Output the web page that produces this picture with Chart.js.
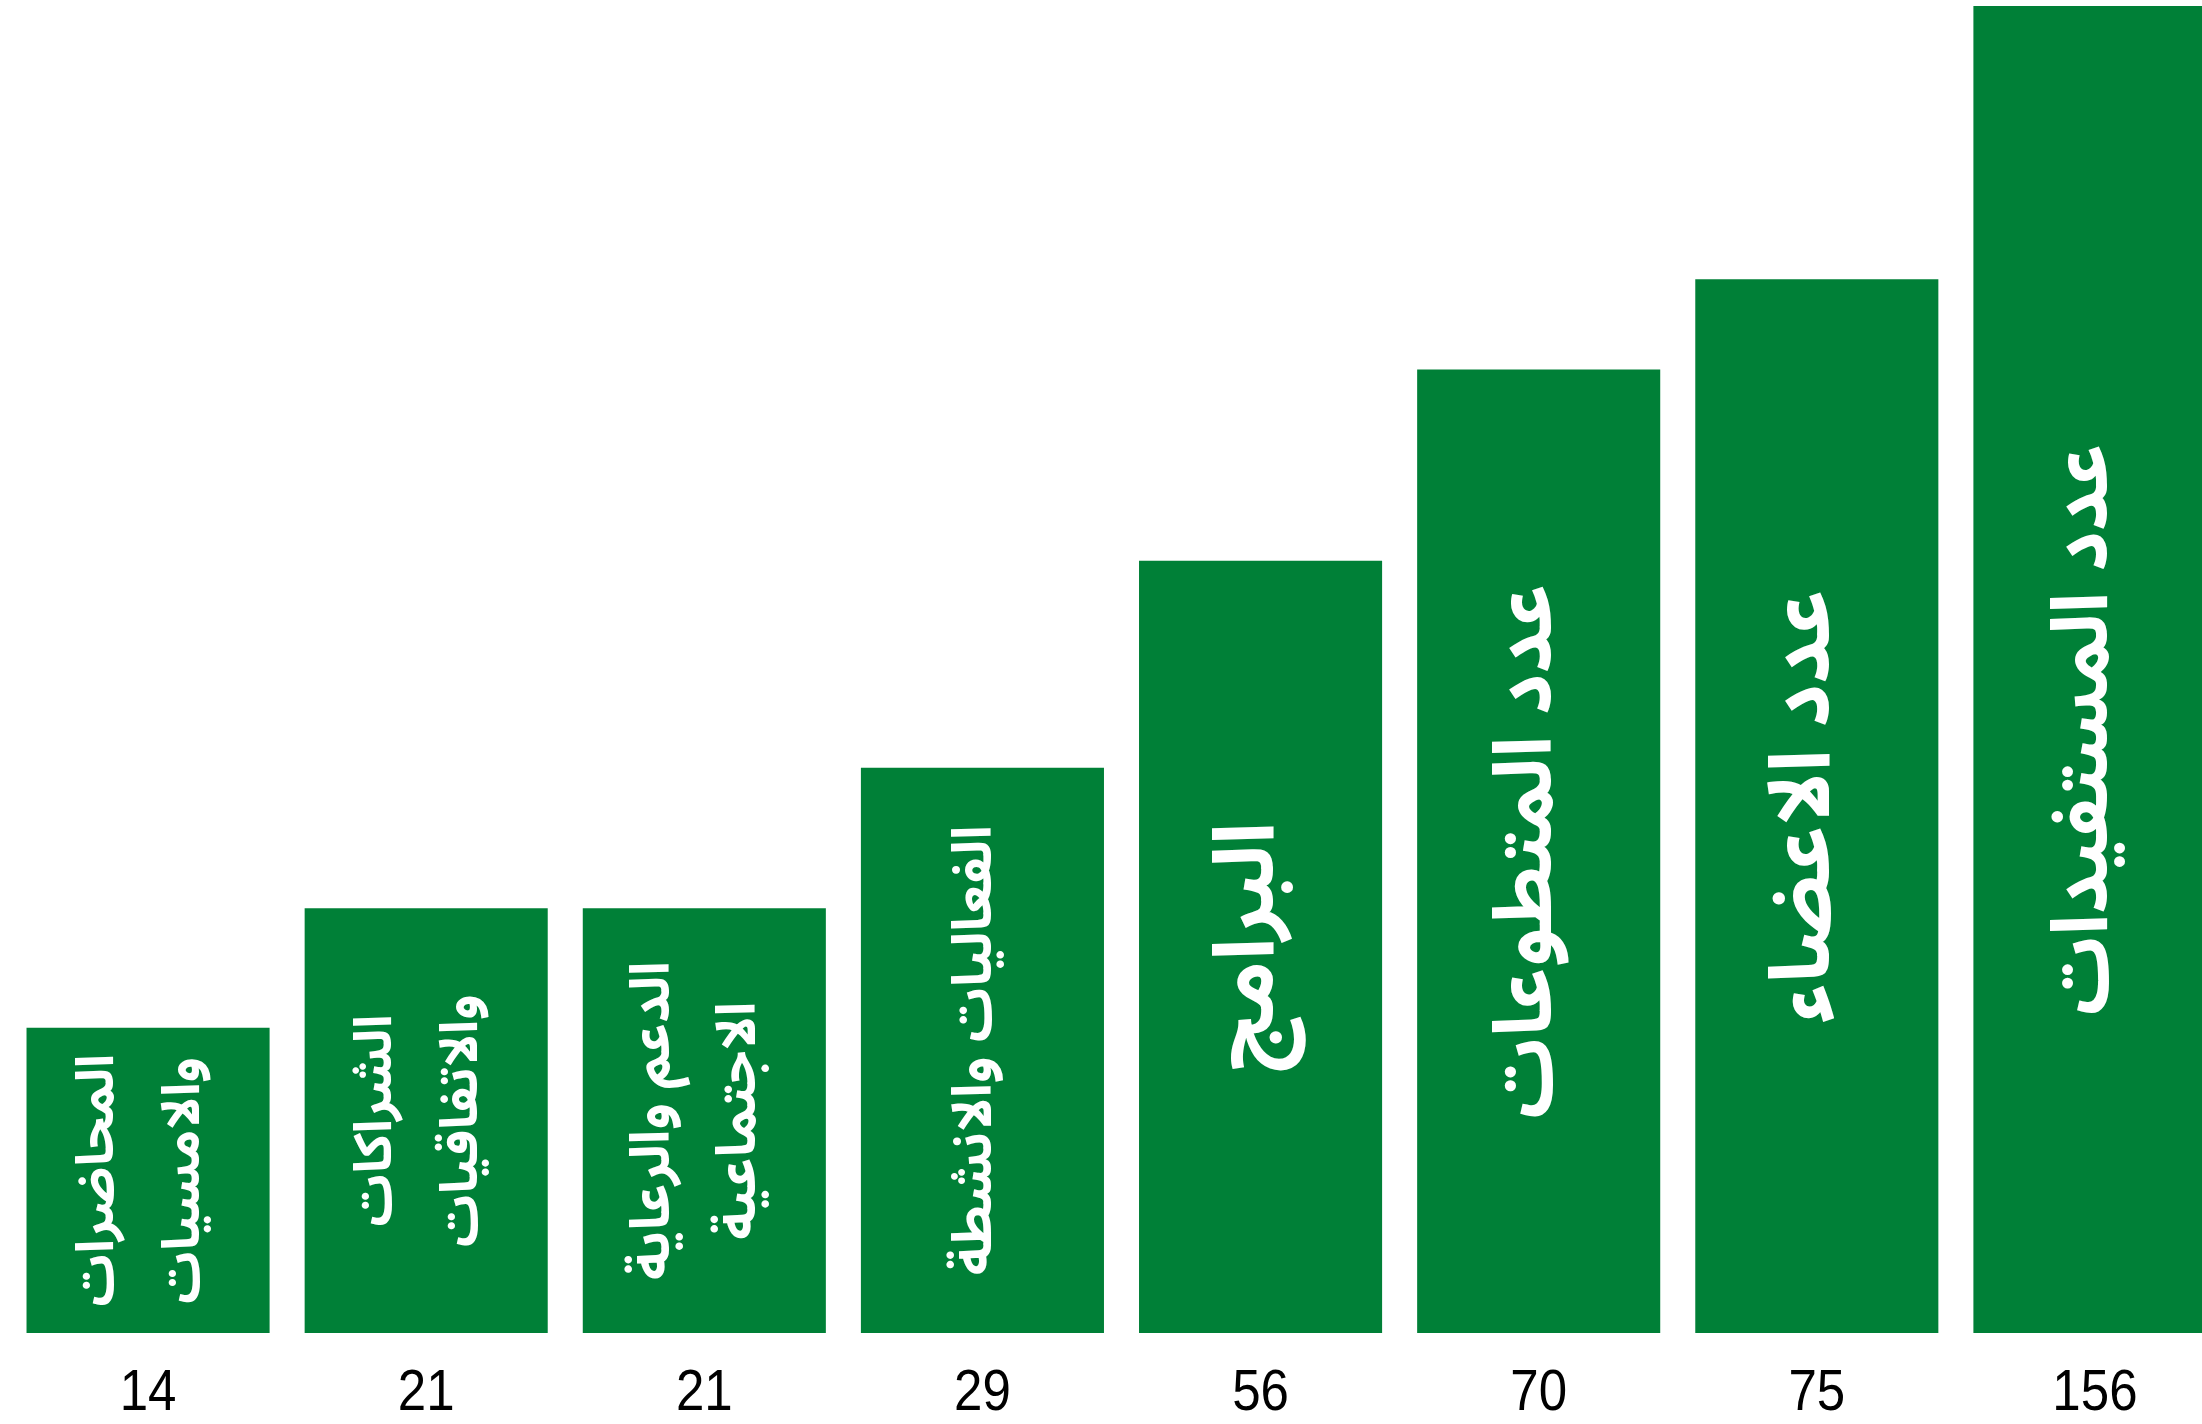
<!DOCTYPE html>
<html lang="ar">
<head>
<meta charset="utf-8">
<script src="https://cdn.jsdelivr.net/npm/chart.js@4.4.0/dist/chart.umd.min.js"></script>
<style>
  html, body { margin: 0; padding: 0; background: #ffffff; overflow: hidden; }
  #wrap { width: 2240px; height: 1424px; }
  canvas { display: block; }
</style>
</head>
<body>
<div id="wrap"><canvas id="c" width="2240" height="1424"></canvas></div>
<script>
// Category names (drawn rotated inside each bar; multi-line where the picture breaks them)
const categories = [
  ["المحاضرات", "والامسيات"],
  ["الشراكات", "والاتفاقيات"],
  ["الدعم والرعاية", "الاجتماعية"],
  ["الفعاليات والانشطة"],
  ["البرامج"],
  ["عدد المتطوعات"],
  ["عدد الاعضاء"],
  ["عدد المستفيدات"]
];
// Numbers printed under the bars
const counts = [14, 21, 21, 29, 56, 70, 75, 156];
// Visual bar heights (percent of the tallest bar)
const barHeights = [23.0, 32.0, 32.0, 42.6, 58.2, 72.6, 79.4, 100];

// Label styling (font size in px, and shift of the label centre toward the bar base)
const labelSize = [52, 52, 54, 54, 84, 80, 84, 78];
const labelDrop = [0, 0, 0, 0, 0, 0, 0, 60];

const GREEN = '#008037';

const insideLabels = {
  id: 'insideLabels',
  afterDatasetsDraw(chart) {
    const ctx = chart.ctx;
    const meta = chart.getDatasetMeta(0);
    meta.data.forEach((bar, i) => {
      const lines = categories[i];
      const size = labelSize[i];
      const lineGap = 86;
      const cy = (bar.y + bar.base) / 2 + labelDrop[i];
      ctx.save();
      ctx.translate(bar.x, cy);
      ctx.rotate(-Math.PI / 2);
      ctx.fillStyle = '#ffffff';
      ctx.font = `bold ${size}px "Noto Sans Arabic", "DejaVu Sans", sans-serif`;
      ctx.textAlign = 'center';
      ctx.textBaseline = 'middle';
      ctx.direction = 'rtl';
      lines.forEach((t, k) => {
        const off = (k - (lines.length - 1) / 2) * lineGap;
        ctx.fillText(t, 0, off);
      });
      ctx.restore();
    });
  }
};

// Count labels under the bars, placed at the category axis tick positions
const countLabels = {
  id: 'countLabels',
  afterDraw(chart) {
    const ctx = chart.ctx;
    const xs = chart.scales.x;
    const y = chart.chartArea.bottom + 61;
    counts.forEach((v, i) => {
      ctx.save();
      ctx.translate(xs.getPixelForTick(i), y);
      ctx.scale(0.88, 1);
      ctx.fillStyle = '#000000';
      ctx.font = '58px "Liberation Sans", Arimo, sans-serif';
      ctx.textAlign = 'center';
      ctx.textBaseline = 'middle';
      ctx.fillText(String(v), 0, 0);
      ctx.restore();
    });
  }
};

new Chart(document.getElementById('c'), {
  type: 'bar',
  data: {
    labels: counts.map(String),
    datasets: [{
      data: barHeights,
      backgroundColor: GREEN,
      borderWidth: 0,
      barPercentage: 0.874,
      categoryPercentage: 1.0
    }]
  },
  options: {
    responsive: false,
    animation: false,
    devicePixelRatio: 1,
    layout: { padding: { left: 9, right: 6, top: 6, bottom: 0 } },
    plugins: { legend: { display: false }, tooltip: { enabled: false } },
    scales: {
      x: {
        grid: { display: false, drawTicks: false },
        border: { display: false },
        ticks: { display: false },
        afterFit(scale) { scale.height = 91; }
      },
      y: {
        display: false,
        min: 0,
        max: 100
      }
    }
  },
  plugins: [insideLabels, countLabels]
});
</script>
</body>
</html>
